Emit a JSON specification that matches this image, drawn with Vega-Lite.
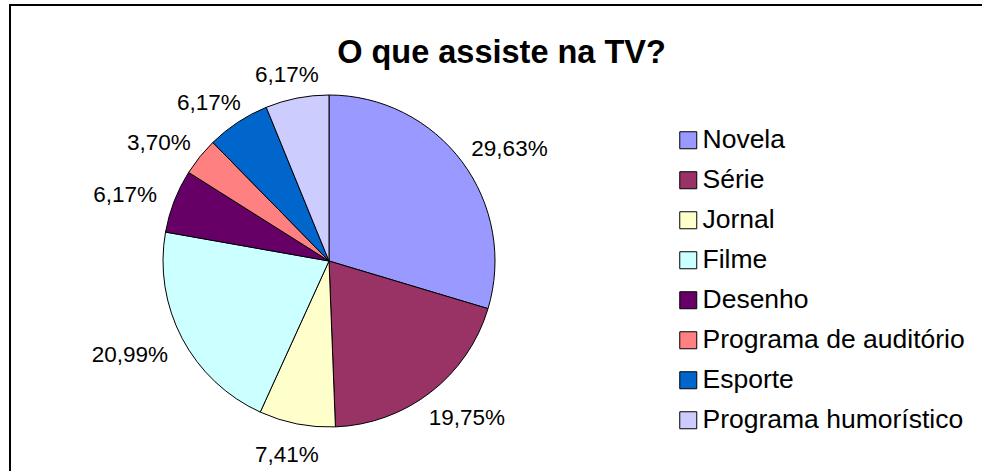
{
  "$schema": "https://vega.github.io/schema/vega-lite/v6.json",
  "width": 972,
  "height": 466,
  "autosize": {"type": "none"},
  "padding": {"left": 10, "top": 5, "right": 0, "bottom": 0},
  "background": "white",
  "config": {"view": {"stroke": null}, "font": "Liberation Sans"},
  "layer": [
    {
      "data": {"values": [{"frame": "border"}]},
      "mark": {"type": "rect", "x": 0, "y": 0, "x2": 1200, "y2": 800, "fill": null, "fillOpacity": 0, "stroke": "black", "strokeWidth": 2}
    },
    {
      "data": {"values": [{"titulo": "O que assiste na TV?"}]},
      "mark": {"type": "text", "x": 491.5, "y": 58, "align": "center", "baseline": "alphabetic", "fontSize": 32.5, "fontWeight": "bold", "font": "Liberation Sans", "color": "black"},
      "encoding": {"text": {"field": "titulo", "type": "nominal"}}
    },
    {
      "data": {"name": "tv"},
      "encoding": {
        "theta": {"field": "pct", "type": "quantitative", "stack": true},
        "order": {"field": "idx", "type": "quantitative"}
      },
      "layer": [
        {
          "mark": {"type": "arc", "x": 319, "y": 256, "radius": 166, "stroke": "black", "strokeWidth": 1},
          "encoding": {
            "color": {
              "field": "tipo", "type": "nominal",
              "scale": {
                "domain": ["Novela", "Série", "Jornal", "Filme", "Desenho", "Programa de auditório", "Esporte", "Programa humorístico"],
                "range": ["#9999FF", "#993366", "#FFFFCC", "#CCFFFF", "#660066", "#FF8080", "#0066CC", "#CCCCFF"]
              },
              "legend": {
                "orient": "none", "legendX": 665, "legendY": 122, "title": null,
                "labelFontSize": 26.5, "labelFont": "Liberation Sans", "labelColor": "black",
                "symbolType": "square", "symbolSize": 289, "symbolStrokeColor": "black", "symbolStrokeWidth": 1,
                "rowPadding": 13, "labelOffset": 1, "labelLimit": 400, "padding": 0
              }
            }
          }
        },
        {
          "mark": {
            "type": "text", "x": 319, "y": 256, "radius": 186, "fontSize": 22.5, "font": "Liberation Sans", "color": "black",
            "dx": {"expr": "6.5*length(datum.label)*sin(PI*(datum.pct_start+datum.pct_end)/99.99)"},
            "dy": {"expr": "4-8*cos(PI*(datum.pct_start+datum.pct_end)/99.99)"}
          },
          "encoding": {"text": {"field": "label", "type": "nominal"}}
        }
      ]
    }
  ],
  "datasets": {
    "tv": [
      {"idx": 1, "tipo": "Novela", "pct": 29.63, "label": "29,63%"},
      {"idx": 2, "tipo": "Série", "pct": 19.75, "label": "19,75%"},
      {"idx": 3, "tipo": "Jornal", "pct": 7.41, "label": "7,41%"},
      {"idx": 4, "tipo": "Filme", "pct": 20.99, "label": "20,99%"},
      {"idx": 5, "tipo": "Desenho", "pct": 6.17, "label": "6,17%"},
      {"idx": 6, "tipo": "Programa de auditório", "pct": 3.70, "label": "3,70%"},
      {"idx": 7, "tipo": "Esporte", "pct": 6.17, "label": "6,17%"},
      {"idx": 8, "tipo": "Programa humorístico", "pct": 6.17, "label": "6,17%"}
    ]
  }
}
